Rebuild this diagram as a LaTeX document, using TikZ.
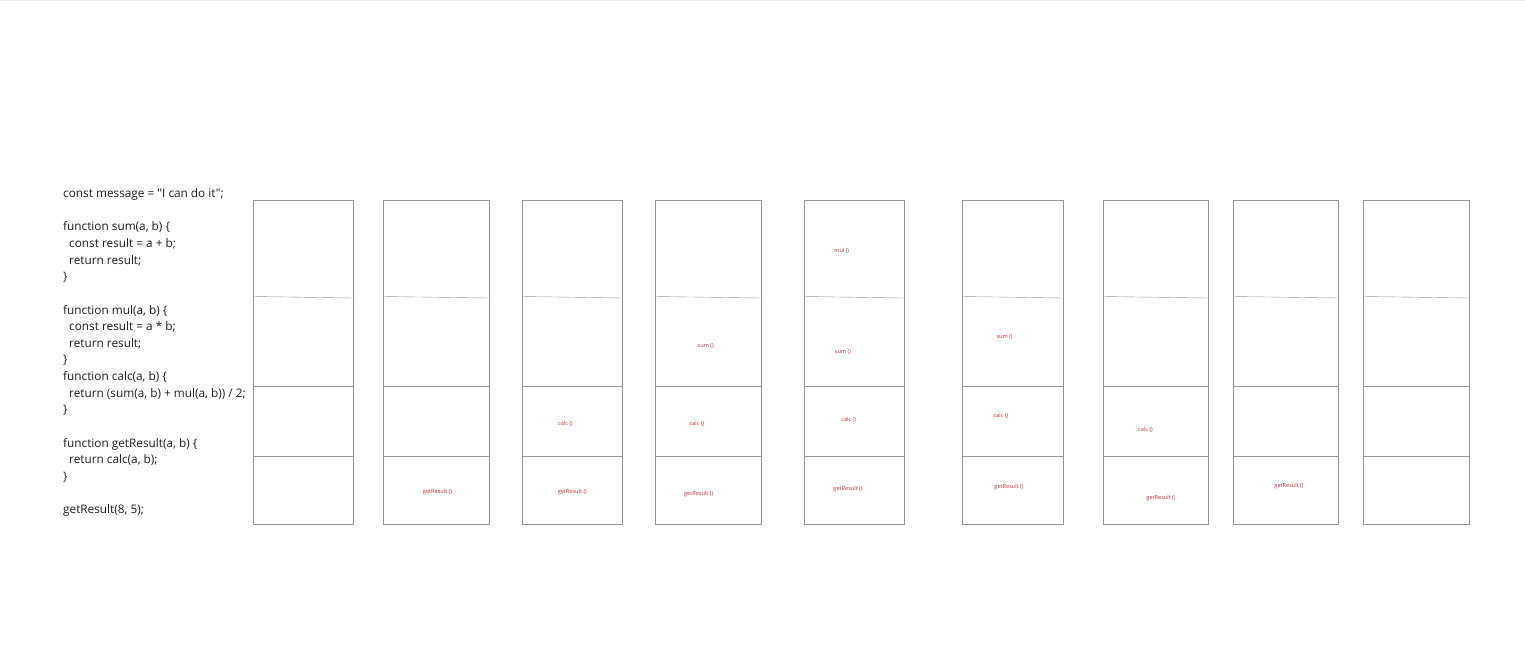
\documentclass[tikz,border=0pt]{standalone}
\usepackage{fontspec}
\setmainfont{Open Sans}
\newfontfamily\codefont{Open Sans}
\usepackage{tikz}
\definecolor{frameline}{RGB}{150,150,150}
\definecolor{calllabel}{RGB}{205,50,50}
\definecolor{edgeline}{RGB}{238,238,238}
\definecolor{codetext}{RGB}{30,30,30}

\begin{document}
\begin{tikzpicture}[x=1pt,y=-1pt,
    codeline/.style={anchor=base west,inner sep=0pt,text=codetext,font=\codefont\fontsize{11.8}{14}\selectfont},
    call/.style={inner sep=0pt,text=calllabel,font=\fontsize{5.6}{6}\selectfont}]
        \useasboundingbox (0,0) rectangle (1525,655);
        \draw[edgeline] (0,0.5) -- (1525,0.5);
        % code listing
        \node[codeline] (l1) at (63,197.5) {const message = "I can do it";};
        \node[codeline] (l3) at (63,230.9) {function sum(a, b) \{};
        \node[codeline] (l4) at (63,247.5) {\hspace*{6pt}const result = a + b;};
        \node[codeline] (l5) at (63,264.1) {\hspace*{6pt}return result;};
        \node[codeline] (l6) at (63,280.8) {\}};
        \node[codeline] (l8) at (63,314.0) {function mul(a, b) \{};
        \node[codeline] (l9) at (63,330.6) {\hspace*{6pt}const result = a * b;};
        \node[codeline] (l10) at (63,347.3) {\hspace*{6pt}return result;};
        \node[codeline] (l11) at (63,363.9) {\}};
        \node[codeline] (l12) at (63,380.5) {function calc(a, b) \{};
        \node[codeline] (l13) at (63,397.1) {\hspace*{6pt}return (sum(a, b) + mul(a, b)) / 2;};
        \node[codeline] (l14) at (63,413.7) {\}};
        \node[codeline] (l16) at (63,447.0) {function getResult(a, b) \{};
        \node[codeline] (l17) at (63,463.6) {\hspace*{6pt}return calc(a, b);};
        \node[codeline] (l18) at (63,480.2) {\}};
        \node[codeline] (l20) at (63,513.5) {getResult(8, 5);};
        % stack snapshots
        \foreach \l/\r in {253/353,383/489,522/622,655/761,804/904,962/1063,1103/1208,1233/1338,1363/1469}{
            \draw[frameline] (\l,200) rectangle (\r,524);
            \draw[frameline] (\l,296.5) -- (\r,298);
            \draw[frameline] (\l,386) -- (\r,386);
            \draw[frameline] (\l,456) -- (\r,456);
        }
        % frames on the stack
        \node[call] (s2get) at (437.5,492) {getResult ()};
        \node[call] (s3calc) at (565.5,424.3) {calc ()};
        \node[call] (s3get) at (572.3,492) {getResult ()};
        \node[call] (s4sum) at (705.7,345.7) {sum ()};
        \node[call] (s4calc) at (697,424) {calc ()};
        \node[call] (s4get) at (698.7,494) {getResult ()};
        \node[call] (s5mul) at (841.7,250.7) {mul ()};
        \node[call] (s5sum) at (843,352) {sum ()};
        \node[call] (s5calc) at (848.7,419.7) {calc ()};
        \node[call] (s5get) at (848,489) {getResult ()};
        \node[call] (s6sum) at (1004.6,337) {sum ()};
        \node[call] (s6calc) at (1001,416) {calc ()};
        \node[call] (s6get) at (1009,487) {getResult ()};
        \node[call] (s7calc) at (1145.5,430) {calc ()};
        \node[call] (s7get) at (1161,498) {getResult ()};
        \node[call] (s8get) at (1289,486) {getResult ()};
\end{tikzpicture}
\end{document}
